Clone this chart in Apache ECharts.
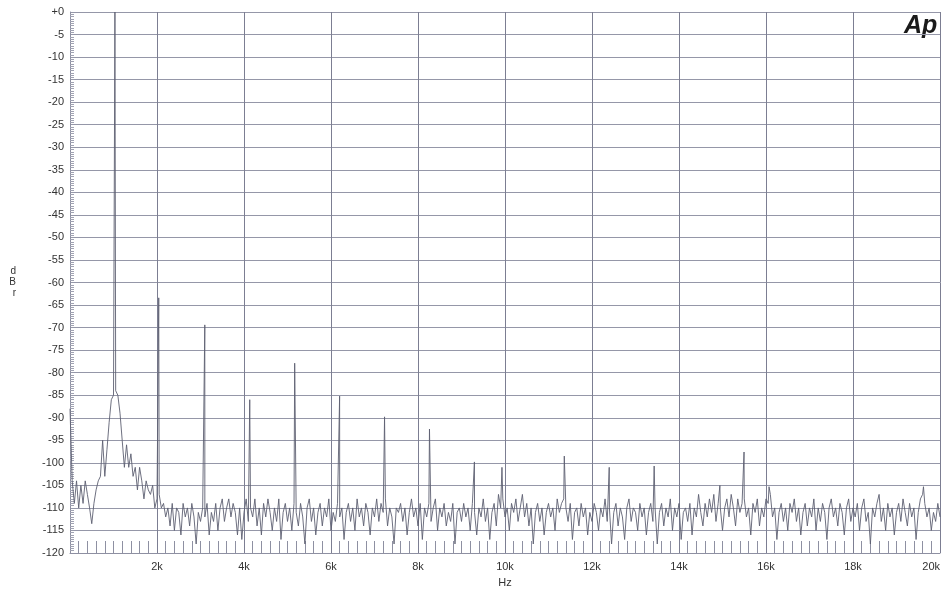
<!DOCTYPE html>
<html>
<head>
<meta charset="utf-8">
<script src="https://cdn.jsdelivr.net/npm/echarts@6/dist/echarts.min.js"></script>
<style>html,body{margin:0;padding:0;background:#fff}#c{width:944px;height:590px}</style>
</head>
<body>
<div id="c"></div>
<script>
// Noise floor / skirt, one value every 50 Hz from 0 Hz to 20 kHz (dBr)
const floorStepHz = 50;
const floorLevels = [
-88,-104,-109,-104,-110,-105,-109,-104,-107,-110,
-113.5,-109,-106,-104,-103,-95,-103,-97,-91,-86,
-85,-84,-85,-89,-95,-101,-96,-101,-98,-103,
-101,-106,-101,-104,-108,-104,-106,-107,-105,-110,
-108,-107,-110,-109,-112,-110,-114,-109,-115,-110,
-111,-116,-109,-112,-110,-114,-109,-112,-118,-111,
-113,-110,-112,-109,-116,-111,-113,-109,-115,-110,
-108,-113,-110,-108,-112,-109,-111,-116,-110,-117,
-111,-108,-113,-110,-112,-108,-114,-110,-116,-109,
-112,-108,-111,-115,-110,-113,-108,-117,-111,-109,
-113,-110,-115,-109,-111,-114,-109,-112,-118,-110,
-108,-113,-110,-116,-111,-109,-114,-110,-112,-108,
-115,-111,-113,-109,-112,-110,-117,-111,-109,-113,
-110,-115,-108,-112,-110,-114,-109,-111,-116,-110,
-112,-108,-113,-109,-111,-108,-114,-110,-112,-118,
-110,-111,-109,-113,-110,-116,-111,-108,-112,-110,
-114,-109,-117,-110,-112,-109,-113,-110,-108,-115,
-110,-112,-109,-114,-111,-113,-109,-118,-111,-110,
-113,-109,-112,-110,-115,-109,-111,-116,-110,-112,
-108,-113,-110,-117,-111,-109,-114,-107,-110,-108,
-112,-110,-115,-109,-111,-108,-113,-110,-107,-112,
-109,-114,-110,-118,-111,-109,-113,-110,-116,-111,
-109,-112,-110,-115,-108,-111,-109,-108,-110,-113,
-109,-117,-111,-110,-114,-109,-112,-110,-116,-111,
-113,-109,-111,-115,-110,-112,-108,-113,-110,-118,
-111,-109,-114,-110,-112,-117,-110,-108,-113,-110,
-111,-115,-109,-112,-110,-116,-111,-109,-113,-110,
-118,-111,-109,-114,-110,-112,-108,-115,-110,-112,
-109,-117,-111,-110,-113,-109,-116,-110,-112,-107,
-111,-114,-109,-112,-108,-111,-107,-113,-109,-110,
-115,-110,-108,-112,-107,-110,-114,-108,-111,-109,
-108,-112,-110,-116,-109,-111,-108,-114,-110,-112,
-108,-109,-107,-112,-110,-117,-111,-109,-113,-110,
-115,-109,-111,-108,-113,-110,-116,-111,-109,-114,
-110,-112,-108,-115,-110,-113,-109,-111,-117,-110,
-108,-112,-110,-114,-109,-111,-116,-110,-108,-113,
-110,-112,-109,-115,-110,-108,-113,-111,-118,-110,
-112,-109,-107,-113,-110,-115,-109,-112,-110,-116,
-111,-109,-113,-108,-111,-114,-109,-112,-110,-117,
-111,-108,-107,-109,-112,-110,-115,-111,-113,-109,
-112
];
// Discrete spectral lines: [frequency Hz, level dBr]
const spurs = [
  [1033, 0],
  [2040, -63.4],
  [3099, -69.4],
  [4132, -86],
  [5165, -77.9],
  [6198, -85.2],
  [7231, -89.8],
  [8264, -92.5],
  [9297, -99.8],
  [9930, -101],
  [11363, -98.5],
  [12396, -101],
  [13429, -100.7],
  [14940, -105],
  [15495, -97.6],
  [16070, -105.3],
  [19620, -105.3]
];
const xTickLabels = {2000:'2k',4000:'4k',6000:'6k',8000:'8k',10000:'10k',12000:'12k',14000:'14k',16000:'16k',18000:'18k',20000:'20k'};

const pts = floorLevels.map((v,i)=>[i*floorStepHz, v]).concat(spurs.map(s=>[s[0], s[1]]));
pts.sort((a,b)=>a[0]-b[0]);

const chart = echarts.init(document.getElementById('c'), null, {renderer:'canvas'});
const gridCol = '#8e90a2';
chart.setOption({
  animation:false,
  backgroundColor:'#ffffff',
  grid:{left:70, right:4, top:12, bottom:37, show:false, containLabel:false, outerBoundsMode:'none'},
  xAxis:{
    type:'value', min:0, max:20000, interval:2000,
    name:'Hz', nameLocation:'middle', nameGap:24,
    nameTextStyle:{fontFamily:'Liberation Sans, Arial, sans-serif', fontSize:11, color:'#333'},
    axisLine:{show:true, onZero:false, lineStyle:{color:gridCol, width:1}},
    axisTick:{show:false},
    minorTick:{show:true, splitNumber:10, length:-12, lineStyle:{color:'#8e90a2', width:1}},
    axisLabel:{fontFamily:'Liberation Sans, Arial, sans-serif', fontSize:11, color:'#333', margin:8,
      alignMaxLabel:'right', formatter:v=>xTickLabels[v]||''},
    splitLine:{show:true, lineStyle:{color:'#7c7e92', width:1}}
  },
  yAxis:{
    type:'value', min:-120, max:0, interval:5,
    name:'d\nB\nr', nameLocation:'middle', nameGap:54, nameRotate:0,
    nameTextStyle:{fontFamily:'Liberation Sans, Arial, sans-serif', fontSize:10, color:'#333', lineHeight:11},
    axisLine:{show:true, onZero:false, lineStyle:{color:gridCol, width:1}},
    axisTick:{show:false},
    minorTick:{show:true, splitNumber:10, length:-4, lineStyle:{color:'#a0a2b2', width:1}},
    axisLabel:{fontFamily:'Liberation Sans, Arial, sans-serif', fontSize:11, color:'#333', margin:6,
      formatter:v=>v===0?'+0':String(v)},
    splitLine:{show:true, lineStyle:{color:'#9597a8', width:1}}
  },
  graphic:[{
    type:'text', left:904, top:14,
    style:{text:'Ap', font:'italic bold 25px "Liberation Sans", Arial, sans-serif', fill:'#1a1a1a'}
  }],
  series:[{
    type:'line', data:pts, showSymbol:false, symbol:'none',
    lineStyle:{color:'#5e6072', width:0.9},
    clip:true
  }]
});
</script>
</body>
</html>
